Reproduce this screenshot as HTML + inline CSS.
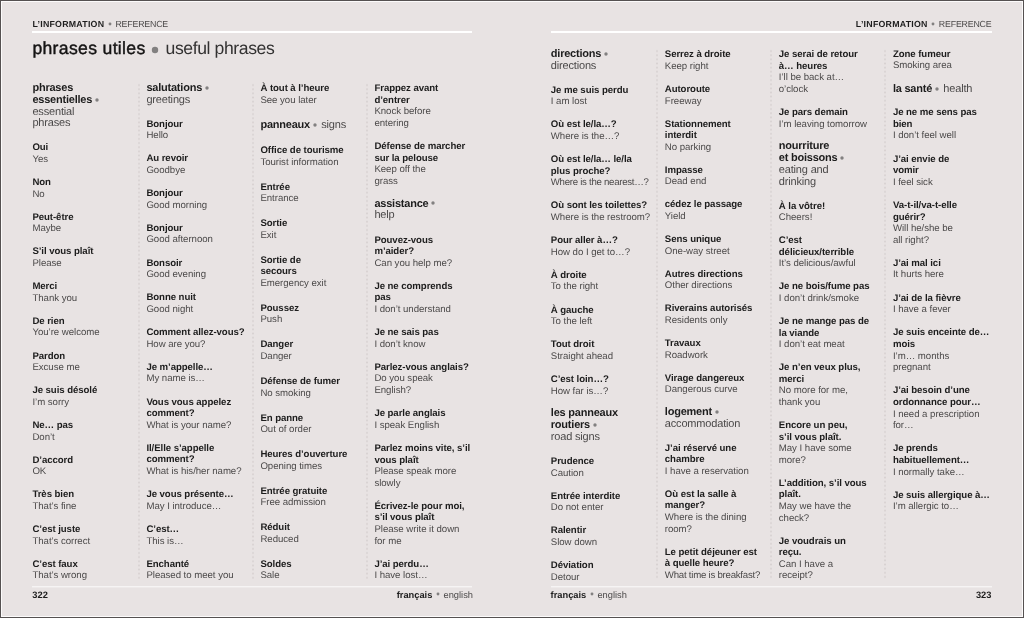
<!DOCTYPE html>
<html lang="fr"><head><meta charset="utf-8"><title>phrases utiles • useful phrases</title>
<style>
html,body{margin:0;padding:0;}
body{width:1024px;height:618px;background:#e8e3e3;position:relative;overflow:hidden;
 font-family:"Liberation Sans",sans-serif;color:#1d1d1d;text-rendering:geometricPrecision;}
.pg{position:absolute;left:0;top:0;width:1024px;height:618px;will-change:transform;}
.frame{position:absolute;left:0;top:0;width:1024px;height:618px;box-sizing:border-box;
 border:1px solid #555151;box-shadow:inset 0 0 0 1px #fcfbfb;}
.rule{position:absolute;height:2px;background:#fff;}
.frule{position:absolute;height:2px;background:linear-gradient(#f6f4f4 0,#f6f4f4 50%,#eeeaea 50%,#eeeaea 100%);}
.hdr{position:absolute;top:18.2px;font-size:8.8px;line-height:12px;white-space:nowrap;}
.hdr b{letter-spacing:.24px;}
.hdr span{color:#4b4949;letter-spacing:-.19px;}
.hdr svg{width:8px;height:8px;vertical-align:-0.6px;margin:0 1.7px 0 1.5px;fill:#828080;}
.title{position:absolute;left:32.4px;top:36.9px;font-size:17.6px;line-height:22px;white-space:nowrap;}
.title .tf{-webkit-text-stroke:.42px #151414;color:#151414;letter-spacing:.33px;}
.title .te{color:#333232;letter-spacing:-.4px;}
.title svg{width:10px;height:10px;vertical-align:-0.7px;margin:0 5.4px 0 4.6px;fill:#828080;}
.col{position:absolute;width:118px;display:flex;flex-direction:column;justify-content:space-between;}
.col.nat{display:block;}
.col.nat>div{margin-bottom:11.6px;}
.en div{font-size:9.65px;line-height:11.6px;white-space:nowrap;}
.f{font-weight:bold;color:#1d1d1d;letter-spacing:-.07px;}
.g{color:#4b4949;letter-spacing:-.03px;}
.hd{position:relative;top:-.6px;}
.hd.one{top:.1px;}
.hl{font-size:11.0px;line-height:11.9px;white-space:nowrap;}
.hf{font-weight:bold;color:#1d1d1d;letter-spacing:-.22px;}
.he{color:#4b4949;letter-spacing:-.17px;}
.b{width:8px;height:8px;vertical-align:-0.9px;margin:0 2.3px 0 0.9px;fill:#828080;}
.sep{position:absolute;width:2px;background-image:radial-gradient(circle at 50% 50%, #d8d2d2 0.75px, rgba(216,210,210,0) 1.15px);
 background-size:2px 4.15px;}
.foot{position:absolute;top:588.6px;font-size:9.3px;line-height:12px;white-space:nowrap;}
.foot b{color:#1d1d1d;}
.foot span{color:#4b4949;}
.foot svg{width:8px;height:8px;vertical-align:-0.6px;margin:0 1.6px;fill:#828080;}
</style></head><body><div class="pg">
<div class="rule" style="left:32px;top:31px;width:440px"></div>
<div class="rule" style="left:551px;top:31px;width:441px"></div>
<div class="frule" style="left:32px;top:586px;width:440px"></div>
<div class="frule" style="left:551px;top:586px;width:441px"></div>
<div class="hdr" style="left:32.4px"><b>L’INFORMATION</b><svg viewBox="0 0 8 8"><circle cx="4" cy="4" r="1.45"/></svg><span>REFERENCE</span></div>
<div class="hdr" style="right:32.6px"><b>L’INFORMATION</b><svg viewBox="0 0 8 8"><circle cx="4" cy="4" r="1.45"/></svg><span>REFERENCE</span></div>
<div class="title"><span class="tf">phrases utiles</span><svg viewBox="0 0 10 10"><circle cx="5" cy="5" r="3.2"/></svg><span class="te">useful phrases</span></div>
<div class="sep" style="left:137.5px;top:82.5px;height:497px"></div>
<div class="sep" style="left:251.5px;top:82.5px;height:497px"></div>
<div class="sep" style="left:365.5px;top:82.5px;height:497px"></div>
<div class="sep" style="left:656.0px;top:49.2px;height:530px"></div>
<div class="sep" style="left:770.0px;top:49.2px;height:530px"></div>
<div class="sep" style="left:884.0px;top:49.2px;height:530px"></div>
<div class="col" style="left:32.4px;top:83.3px;height:498.70px;">
<div class="hd"><div class="hl"><span class="hf">phrases</span></div><div class="hl"><span class="hf">essentielles</span><svg class="b" viewBox="0 0 8 8"><circle cx="4" cy="4" r="1.7"/></svg></div><div class="hl"><span class="he">essential</span></div><div class="hl"><span class="he">phrases</span></div></div>
<div class="en"><div class="f">Oui</div><div class="g">Yes</div></div>
<div class="en"><div class="f">Non</div><div class="g">No</div></div>
<div class="en"><div class="f">Peut-être</div><div class="g">Maybe</div></div>
<div class="en"><div class="f">S’il vous plaît</div><div class="g">Please</div></div>
<div class="en"><div class="f">Merci</div><div class="g">Thank you</div></div>
<div class="en"><div class="f">De rien</div><div class="g">You’re welcome</div></div>
<div class="en"><div class="f">Pardon</div><div class="g">Excuse me</div></div>
<div class="en"><div class="f">Je suis désolé</div><div class="g">I’m sorry</div></div>
<div class="en"><div class="f">Ne… pas</div><div class="g">Don’t</div></div>
<div class="en"><div class="f">D’accord</div><div class="g">OK</div></div>
<div class="en"><div class="f">Très bien</div><div class="g">That’s fine</div></div>
<div class="en"><div class="f">C’est juste</div><div class="g">That’s correct</div></div>
<div class="en"><div class="f">C’est faux</div><div class="g">That’s wrong</div></div>
</div>
<div class="col" style="left:146.4px;top:83.3px;height:498.70px;">
<div class="hd"><div class="hl"><span class="hf">salutations</span><svg class="b" viewBox="0 0 8 8"><circle cx="4" cy="4" r="1.7"/></svg></div><div class="hl"><span class="he">greetings</span></div></div>
<div class="en"><div class="f">Bonjour</div><div class="g">Hello</div></div>
<div class="en"><div class="f">Au revoir</div><div class="g">Goodbye</div></div>
<div class="en"><div class="f">Bonjour</div><div class="g">Good morning</div></div>
<div class="en"><div class="f">Bonjour</div><div class="g">Good afternoon</div></div>
<div class="en"><div class="f">Bonsoir</div><div class="g">Good evening</div></div>
<div class="en"><div class="f">Bonne nuit</div><div class="g">Good night</div></div>
<div class="en"><div class="f">Comment allez-vous?</div><div class="g">How are you?</div></div>
<div class="en"><div class="f">Je m’appelle…</div><div class="g">My name is…</div></div>
<div class="en"><div class="f">Vous vous appelez</div><div class="f">comment?</div><div class="g">What is your name?</div></div>
<div class="en"><div class="f">Il/Elle s’appelle</div><div class="f">comment?</div><div class="g">What is his/her name?</div></div>
<div class="en"><div class="f">Je vous présente…</div><div class="g">May I introduce…</div></div>
<div class="en"><div class="f">C’est…</div><div class="g">This is…</div></div>
<div class="en"><div class="f">Enchanté</div><div class="g">Pleased to meet you</div></div>
</div>
<div class="col" style="left:260.4px;top:83.3px;height:498.70px;">
<div class="en"><div class="f">À tout à l’heure</div><div class="g">See you later</div></div>
<div class="hd one"><div class="hl"><span class="hf">panneaux</span><svg class="b" viewBox="0 0 8 8"><circle cx="4" cy="4" r="1.7"/></svg><span class="he">signs</span></div></div>
<div class="en"><div class="f">Office de tourisme</div><div class="g">Tourist information</div></div>
<div class="en"><div class="f">Entrée</div><div class="g">Entrance</div></div>
<div class="en"><div class="f">Sortie</div><div class="g">Exit</div></div>
<div class="en"><div class="f">Sortie de</div><div class="f">secours</div><div class="g">Emergency exit</div></div>
<div class="en"><div class="f">Poussez</div><div class="g">Push</div></div>
<div class="en"><div class="f">Danger</div><div class="g">Danger</div></div>
<div class="en"><div class="f">Défense de fumer</div><div class="g">No smoking</div></div>
<div class="en"><div class="f">En panne</div><div class="g">Out of order</div></div>
<div class="en"><div class="f">Heures d’ouverture</div><div class="g">Opening times</div></div>
<div class="en"><div class="f">Entrée gratuite</div><div class="g">Free admission</div></div>
<div class="en"><div class="f">Réduit</div><div class="g">Reduced</div></div>
<div class="en"><div class="f">Soldes</div><div class="g">Sale</div></div>
</div>
<div class="col" style="left:374.4px;top:83.3px;height:498.70px;">
<div class="en"><div class="f">Frappez avant</div><div class="f">d’entrer</div><div class="g">Knock before</div><div class="g">entering</div></div>
<div class="en"><div class="f">Défense de marcher</div><div class="f">sur la pelouse</div><div class="g">Keep off the</div><div class="g">grass</div></div>
<div class="hd"><div class="hl"><span class="hf">assistance</span><svg class="b" viewBox="0 0 8 8"><circle cx="4" cy="4" r="1.7"/></svg></div><div class="hl"><span class="he">help</span></div></div>
<div class="en"><div class="f">Pouvez-vous</div><div class="f">m’aider?</div><div class="g">Can you help me?</div></div>
<div class="en"><div class="f">Je ne comprends</div><div class="f">pas</div><div class="g">I don’t understand</div></div>
<div class="en"><div class="f">Je ne sais pas</div><div class="g">I don’t know</div></div>
<div class="en"><div class="f">Parlez-vous anglais?</div><div class="g">Do you speak</div><div class="g">English?</div></div>
<div class="en"><div class="f">Je parle anglais</div><div class="g">I speak English</div></div>
<div class="en"><div class="f">Parlez moins vite, s’il</div><div class="f">vous plaît</div><div class="g">Please speak more</div><div class="g">slowly</div></div>
<div class="en"><div class="f">Écrivez-le pour moi,</div><div class="f">s’il vous plaît</div><div class="g">Please write it down</div><div class="g">for me</div></div>
<div class="en"><div class="f">J’ai perdu…</div><div class="g">I have lost…</div></div>
</div>
<div class="col" style="left:550.8px;top:49.3px;height:534.10px;">
<div class="hd"><div class="hl"><span class="hf">directions</span><svg class="b" viewBox="0 0 8 8"><circle cx="4" cy="4" r="1.7"/></svg></div><div class="hl"><span class="he">directions</span></div></div>
<div class="en"><div class="f">Je me suis perdu</div><div class="g">I am lost</div></div>
<div class="en"><div class="f">Où est le/la…?</div><div class="g">Where is the…?</div></div>
<div class="en"><div class="f">Où est le/la… le/la</div><div class="f">plus proche?</div><div class="g" style="letter-spacing:-0.27px">Where is the nearest…?</div></div>
<div class="en"><div class="f">Où sont les toilettes?</div><div class="g">Where is the restroom?</div></div>
<div class="en"><div class="f">Pour aller à…?</div><div class="g">How do I get to…?</div></div>
<div class="en"><div class="f">À droite</div><div class="g">To the right</div></div>
<div class="en"><div class="f">À gauche</div><div class="g">To the left</div></div>
<div class="en"><div class="f">Tout droit</div><div class="g">Straight ahead</div></div>
<div class="en"><div class="f">C’est loin…?</div><div class="g">How far is…?</div></div>
<div class="hd"><div class="hl"><span class="hf">les panneaux</span></div><div class="hl"><span class="hf">routiers</span><svg class="b" viewBox="0 0 8 8"><circle cx="4" cy="4" r="1.7"/></svg></div><div class="hl"><span class="he">road signs</span></div></div>
<div class="en"><div class="f">Prudence</div><div class="g">Caution</div></div>
<div class="en"><div class="f">Entrée interdite</div><div class="g">Do not enter</div></div>
<div class="en"><div class="f">Ralentir</div><div class="g">Slow down</div></div>
<div class="en"><div class="f">Déviation</div><div class="g">Detour</div></div>
</div>
<div class="col" style="left:664.8px;top:49.3px;height:532.20px;">
<div class="en"><div class="f">Serrez à droite</div><div class="g">Keep right</div></div>
<div class="en"><div class="f">Autoroute</div><div class="g">Freeway</div></div>
<div class="en"><div class="f">Stationnement</div><div class="f">interdit</div><div class="g">No parking</div></div>
<div class="en"><div class="f">Impasse</div><div class="g">Dead end</div></div>
<div class="en"><div class="f">cédez le passage</div><div class="g">Yield</div></div>
<div class="en"><div class="f">Sens unique</div><div class="g">One-way street</div></div>
<div class="en"><div class="f">Autres directions</div><div class="g">Other directions</div></div>
<div class="en"><div class="f">Riverains autorisés</div><div class="g">Residents only</div></div>
<div class="en"><div class="f">Travaux</div><div class="g">Roadwork</div></div>
<div class="en"><div class="f">Virage dangereux</div><div class="g">Dangerous curve</div></div>
<div class="hd"><div class="hl"><span class="hf">logement</span><svg class="b" viewBox="0 0 8 8"><circle cx="4" cy="4" r="1.7"/></svg></div><div class="hl"><span class="he">accommodation</span></div></div>
<div class="en"><div class="f">J’ai réservé une</div><div class="f">chambre</div><div class="g">I have a reservation</div></div>
<div class="en"><div class="f">Où est la salle à</div><div class="f">manger?</div><div class="g">Where is the dining</div><div class="g">room?</div></div>
<div class="en"><div class="f">Le petit déjeuner est</div><div class="f">à quelle heure?</div><div class="g" style="letter-spacing:-0.23px">What time is breakfast?</div></div>
</div>
<div class="col" style="left:778.8px;top:49.3px;height:532.80px;">
<div class="en"><div class="f">Je serai de retour</div><div class="f">à… heures</div><div class="g">I’ll be back at…</div><div class="g">o’clock</div></div>
<div class="en"><div class="f">Je pars demain</div><div class="g">I’m leaving tomorrow</div></div>
<div class="hd"><div class="hl"><span class="hf">nourriture</span></div><div class="hl"><span class="hf">et boissons</span><svg class="b" viewBox="0 0 8 8"><circle cx="4" cy="4" r="1.7"/></svg></div><div class="hl"><span class="he">eating and</span></div><div class="hl"><span class="he">drinking</span></div></div>
<div class="en"><div class="f">À la vôtre!</div><div class="g">Cheers!</div></div>
<div class="en"><div class="f">C’est</div><div class="f">délicieux/terrible</div><div class="g">It’s delicious/awful</div></div>
<div class="en"><div class="f">Je ne bois/fume pas</div><div class="g">I don’t drink/smoke</div></div>
<div class="en"><div class="f">Je ne mange pas de</div><div class="f">la viande</div><div class="g">I don’t eat meat</div></div>
<div class="en"><div class="f">Je n’en veux plus,</div><div class="f">merci</div><div class="g">No more for me,</div><div class="g">thank you</div></div>
<div class="en"><div class="f">Encore un peu,</div><div class="f">s’il vous plaît.</div><div class="g">May I have some</div><div class="g">more?</div></div>
<div class="en"><div class="f">L’addition, s’il vous</div><div class="f">plaît.</div><div class="g">May we have the</div><div class="g">check?</div></div>
<div class="en"><div class="f">Je voudrais un</div><div class="f">reçu.</div><div class="g">Can I have a</div><div class="g">receipt?</div></div>
</div>
<div class="col nat" style="left:892.9px;top:48.9px;">
<div class="en"><div class="f">Zone fumeur</div><div class="g">Smoking area</div></div>
<div class="hd one"><div class="hl"><span class="hf">la santé</span><svg class="b" viewBox="0 0 8 8"><circle cx="4" cy="4" r="1.7"/></svg><span class="he">health</span></div></div>
<div class="en"><div class="f">Je ne me sens pas</div><div class="f">bien</div><div class="g">I don’t feel well</div></div>
<div class="en"><div class="f">J’ai envie de</div><div class="f">vomir</div><div class="g">I feel sick</div></div>
<div class="en"><div class="f">Va-t-il/va-t-elle</div><div class="f">guérir?</div><div class="g">Will he/she be</div><div class="g">all right?</div></div>
<div class="en"><div class="f">J’ai mal ici</div><div class="g">It hurts here</div></div>
<div class="en"><div class="f">J’ai de la fièvre</div><div class="g">I have a fever</div></div>
<div class="en"><div class="f">Je suis enceinte de…</div><div class="f">mois</div><div class="g">I’m… months</div><div class="g">pregnant</div></div>
<div class="en"><div class="f">J’ai besoin d’une</div><div class="f">ordonnance pour…</div><div class="g">I need a prescription</div><div class="g">for…</div></div>
<div class="en"><div class="f">Je prends</div><div class="f">habituellement…</div><div class="g">I normally take…</div></div>
<div class="en"><div class="f">Je suis allergique à…</div><div class="g">I’m allergic to…</div></div>
</div>
<div class="foot" style="left:32.3px"><b>322</b></div>
<div class="foot" style="right:551px"><b>français</b><svg viewBox="0 0 8 8"><circle cx="4" cy="4" r="1.45"/></svg><span>english</span></div>
<div class="foot" style="left:550.6px"><b>français</b><svg viewBox="0 0 8 8"><circle cx="4" cy="4" r="1.45"/></svg><span>english</span></div>
<div class="foot" style="right:32.6px"><b>323</b></div>
<div class="frame"></div>
</div></body></html>
